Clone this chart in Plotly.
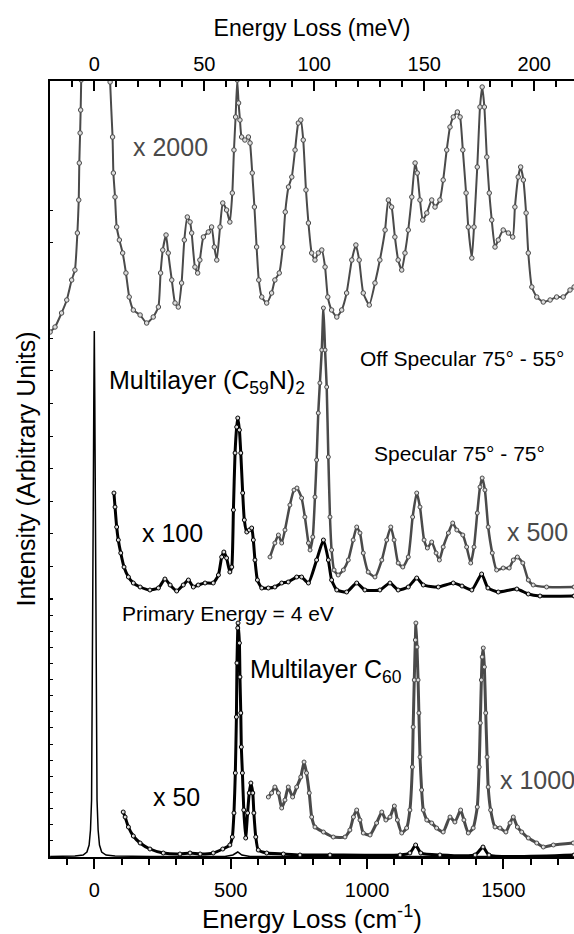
import plotly.graph_objects as go
import numpy as np

CM_PER_MEV = 8.0655
X_RANGE = [-162.4, 1758.6]
Y_RANGE = [0, 776]

# ---- Off-specular (C59N)2, x2000 ----
off_x = [-162, -144, -120, -101, -83, -71, -62, -57, -55, -52, -50, -48, -40, 52, 58, 67, 70, 76, 82, 92, 104, 116, 128, 143,
         168, 192, 216, 235, 243, 251, 263, 271, 284, 296, 308, 320, 330, 341, 351, 357, 369, 379, 387, 400, 418, 430,
         440, 449, 461, 471, 485, 497, 506, 512, 518, 524, 529, 534, 540, 552, 565, 571, 579, 587, 595, 603, 614, 632,
         650, 662, 678, 691, 700, 712, 724, 736, 748, 757, 766, 776, 785, 797, 809, 821, 834, 846, 856, 870, 889, 907,
         925, 944, 959, 971, 986, 1008, 1029, 1047, 1066, 1078, 1090, 1102, 1114, 1127, 1139, 1151, 1164, 1176, 1184,
         1194, 1204, 1219, 1237, 1249, 1267, 1279, 1292, 1304, 1316, 1331, 1341, 1351, 1363, 1371, 1384, 1392, 1404,
         1414, 1422, 1430, 1439, 1448, 1457, 1469, 1481, 1499, 1518, 1534, 1542, 1554, 1563, 1573, 1583, 1591, 1604,
         1622, 1646, 1671, 1695, 1719, 1744, 1759]
off_y = [525, 530, 544, 557, 577, 587, 624, 657, 694, 724, 747, 777, 900, 900, 775, 720, 684, 660, 630, 617, 604, 584, 560, 547,
         542, 534, 540, 550, 584, 607, 622, 604, 577, 554, 550, 574, 617, 640, 635, 624, 590, 584, 597, 620, 625, 630,
         610, 597, 630, 654, 647, 635, 664, 707, 740, 777, 754, 737, 720, 717, 720, 714, 684, 650, 610, 577, 560, 554,
         564, 577, 584, 610, 645, 670, 680, 707, 734, 737, 717, 667, 634, 604, 597, 604, 607, 590, 560, 547, 540, 547,
         564, 597, 612, 597, 564, 552, 574, 597, 627, 657, 650, 620, 597, 587, 604, 627, 660, 694, 684,
         657, 637, 644, 657, 650, 657, 677, 707, 730, 740, 745, 740, 707, 664, 630, 599, 630, 690,
         750, 770, 750, 700, 664, 637, 610, 617, 627, 624, 620, 650, 680, 690, 677, 644, 604, 570,
         560, 555, 557, 560, 560, 567, 570]

# ---- Specular (C59N)2, x100 ----
spec100_x = [72, 76, 82, 88, 97, 109, 125, 143, 168, 204, 235, 259, 278, 302, 326, 345, 363, 381, 406, 436, 455, 467, 475,
             485, 497, 504, 510, 516, 522, 526, 532, 537, 544, 550, 559, 568, 577, 583, 589, 598, 614, 638, 662, 687,
             711, 742, 760, 785, 815, 840, 858, 870, 889, 925, 962, 992, 1047, 1084, 1114, 1151, 1182, 1206, 1261,
             1316, 1348, 1384, 1420, 1443, 1481, 1549, 1591, 1634, 1759]
spec100_y = [364, 350, 330, 317, 304, 290, 280, 274, 270, 267, 269, 278, 272, 266, 272, 277, 270, 272, 274, 274, 282, 300, 305,
             299, 285, 290, 347, 404, 430, 439, 427, 404, 364, 337, 325, 327, 329, 317, 297, 277, 269, 269, 270, 274,
             275, 280, 280, 274, 297, 317, 297, 277, 267, 265, 274, 267, 267, 274, 267, 270, 279, 272, 270,
             274, 271, 267, 283, 269, 265, 268, 263, 261, 261]

# ---- Off-specular (C59N)2, x500 ----
off500_x = [644, 662, 675, 687, 699, 717, 732, 743, 760, 772, 785, 791, 801, 809, 815, 821, 827, 834, 840, 846, 852, 858, 864,
            870, 879, 894, 913, 931, 949, 962, 974, 986, 1004, 1029, 1054, 1072, 1087, 1099, 1114, 1131, 1151, 1167,
            1182, 1194, 1209, 1221, 1237, 1253, 1265, 1279, 1298, 1314, 1329, 1351, 1365, 1380, 1392, 1404, 1414, 1422,
            1432, 1444, 1459, 1475, 1499, 1521, 1536, 1551, 1571, 1591, 1609, 1658, 1759]
off500_y = [300, 314, 322, 314, 327, 352, 367, 369, 359, 340, 314, 307, 320, 360, 397, 444, 474, 507, 549, 507, 470, 400, 340,
            307, 287, 282, 287, 297, 317, 330, 324, 304, 285, 280, 297, 317, 330, 317, 294, 290, 300, 340,
            364, 350, 317, 309, 315, 304, 297, 310, 324, 334, 327, 322, 310, 294, 310, 344, 370, 379,
            367, 330, 304, 287, 289, 289, 297, 300, 294, 277, 272, 270, 270]

# ---- Primary (x1) spectrum incl. elastic peak ----
el_x = [-162, -71, -41, -27, -19, -14, -10, -7, -5.5, -3.7, -1.8, 0, 1.8, 3.7, 5.5, 7.3, 10, 14, 19, 27, 43, 76, 204, 479,
        508, 526, 541, 571, 1759]
el_y = [0.5, 1, 2, 5, 12, 27, 57, 157, 257, 357, 457, 526, 457, 357, 257, 157, 57, 27, 12, 5, 2, 1, 0.5, 0.5,
        2, 5, 2, 0.5, 0.5]

# ---- Multilayer C60, x50 ----
c60_x = [106, 113, 125, 143, 168, 204, 253, 314, 351, 388, 436, 471, 497, 506, 512, 517, 521, 523, 526, 527, 532, 534, 537,
         539, 543, 548, 555, 562, 568, 574, 581, 585, 592, 601, 632, 693, 754, 864, 1121, 1157, 1178, 1197, 1267, 1396,
         1425, 1447, 1759]
c60_y = [45, 40, 30, 21, 14, 8, 4, 3, 4, 3, 4, 8, 12, 20, 44, 84, 140, 194, 229, 234, 214, 180, 144,
         110, 84, 47, 19, 44, 64, 74, 64, 44, 20, 7, 4, 3, 2, 2, 2, 4, 12, 4, 2, 2,
         10, 2, 2]

# ---- Multilayer C60, x1000 ----
c601k_x = [638, 650, 662, 675, 687, 699, 711, 727, 742, 757, 769, 778, 788, 797, 809, 840, 876, 919, 937, 950, 962, 974, 986,
           1011, 1035, 1054, 1069, 1084, 1100, 1111, 1127, 1145, 1157, 1166, 1169, 1173, 1177, 1179, 1183, 1187, 1190,
           1194, 1200, 1206, 1219, 1237, 1255, 1279, 1304, 1322, 1343, 1355, 1371, 1389, 1404, 1411, 1415, 1419, 1422,
           1426, 1430, 1435, 1440, 1444, 1453, 1469, 1487, 1509, 1524, 1536, 1551, 1567, 1591, 1622, 1646, 1683, 1756]
c601k_y = [60, 64, 70, 64, 49, 57, 70, 60, 70, 80, 95, 84, 64, 40, 30, 25, 20, 20, 27, 40, 47, 37, 24,
           22, 34, 45, 37, 40, 51, 37, 24, 29, 47, 90, 130, 177, 217, 234, 210, 177, 144,
           100, 67, 47, 37, 34, 29, 25, 40, 35, 47, 37, 24, 29, 50, 90, 134, 177, 200,
           209, 190, 144, 100, 70, 47, 30, 29, 25, 34, 40, 30, 25, 19, 14, 10, 12, 14]

# top-axis tick positions (meV)
mev_ticks = [0, 50, 100, 150, 200]

BLACK = "#000000"
GRAY = "#4a4a4a"
FONT = "Liberation Sans, Arial, sans-serif"

fig = go.Figure()


def add_spec(x, y, color, lw, msize, mode="lines+markers", shape="spline"):
    fig.add_trace(go.Scatter(
        x=x, y=y, mode=mode,
        line=dict(color=color, width=lw, shape=shape, smoothing=0.5),
        marker=dict(symbol="circle", size=msize, color="#dcdcdc", line=dict(color=color, width=1)),
        showlegend=False, hoverinfo="skip"))


add_spec(el_x, el_y, BLACK, 1.5, 0, mode="lines", shape="linear")
add_spec(c60_x, c60_y, BLACK, 3, 4)
add_spec(c601k_x, c601k_y, GRAY, 3, 4)
add_spec(spec100_x, spec100_y, BLACK, 3, 4)
add_spec(off500_x, off500_y, GRAY, 2.5, 4)
add_spec(off_x, off_y, GRAY, 2, 4.5)

# invisible trace that carries the top (meV) axis
fig.add_trace(go.Scatter(x=mev_ticks, y=[None] * len(mev_ticks), xaxis="x2", yaxis="y", mode="markers",
                         showlegend=False, hoverinfo="skip"))

# y ticks (inside, unlabeled)
ytv = [float(v) for v in np.arange(16.1, 258.5, 16.13)] + [float(v) for v in np.arange(258, 520, 32.6)] + [615, 647]

fig.update_layout(
    width=574, height=934,
    margin=dict(l=50, r=0, t=81, b=77, autoexpand=False),
    paper_bgcolor="white", plot_bgcolor="white",
    font=dict(family=FONT, color="black", size=20),
    showlegend=False,
    xaxis=dict(range=X_RANGE, showgrid=False, zeroline=False, showline=True, linecolor="black", linewidth=1.5,
               ticks="outside", tickmode="linear", tick0=0, dtick=500, ticklen=10, tickwidth=1.5, tickcolor="black",
               minor=dict(ticks="outside", dtick=100, ticklen=6, tickwidth=1.5, tickcolor="black"),
               tickfont=dict(size=20), automargin=False, ticklabelstandoff=4,
               title=dict(text="Energy Loss (cm<sup>-1</sup>)", font=dict(size=26), standoff=16)),
    xaxis2=dict(range=[X_RANGE[0] / CM_PER_MEV, X_RANGE[1] / CM_PER_MEV], overlaying="x", side="top", anchor="y",
                showgrid=False, zeroline=False, showline=True, linecolor="black", linewidth=1.5,
                ticks="inside", tickmode="linear", tick0=0, dtick=50, ticklen=10, tickwidth=1.5, tickcolor="black",
                minor=dict(ticks="inside", dtick=10, ticklen=6, tickwidth=1.5, tickcolor="black"),
                tickfont=dict(size=20), automargin=False,
                title=dict(text="Energy Loss (meV)", font=dict(size=23), standoff=10)),
    yaxis=dict(range=Y_RANGE, showgrid=False, zeroline=False, showline=True, linecolor="black", linewidth=1.5,
               ticks="inside", tickvals=ytv, ticklen=3, tickwidth=1.2, tickcolor="black", showticklabels=False,
               automargin=False,
               title=dict(text="Intensity (Arbitrary Units)", font=dict(size=25), standoff=6)),
)

def label(text, x, y, size, color=BLACK, xanchor="center"):
    fig.add_annotation(x=x, y=y, xref="x", yref="y", text=text, showarrow=False,
                       font=dict(family=FONT, size=size, color=color), xanchor=xanchor, yanchor="middle")

label("x 2000", 281, 710, 25, GRAY)
label("Multilayer (C<sub>59</sub>N)<sub>2</sub>", 46, 475, 25, xanchor="left")
label("Off Specular 75° - 55°", 1347, 499, 21)
label("Specular 75° - 75°", 1337, 404, 21)
label("x 100", 287, 324, 25)
label("x 500", 1625, 325, 25, GRAY)
label("Primary Energy = 4 eV", 95, 244, 21, xanchor="left")
label("Multilayer C<sub>60</sub>", 565, 186, 25, xanchor="left")
label("x 50", 300, 60, 25)
label("x 1000", 1481, 77, 25, GRAY, xanchor="left")

fig.write_html("out.html", config={"displayModeBar": False},
               post_script="document.body.style.margin='0px';document.body.style.overflow='hidden';")
